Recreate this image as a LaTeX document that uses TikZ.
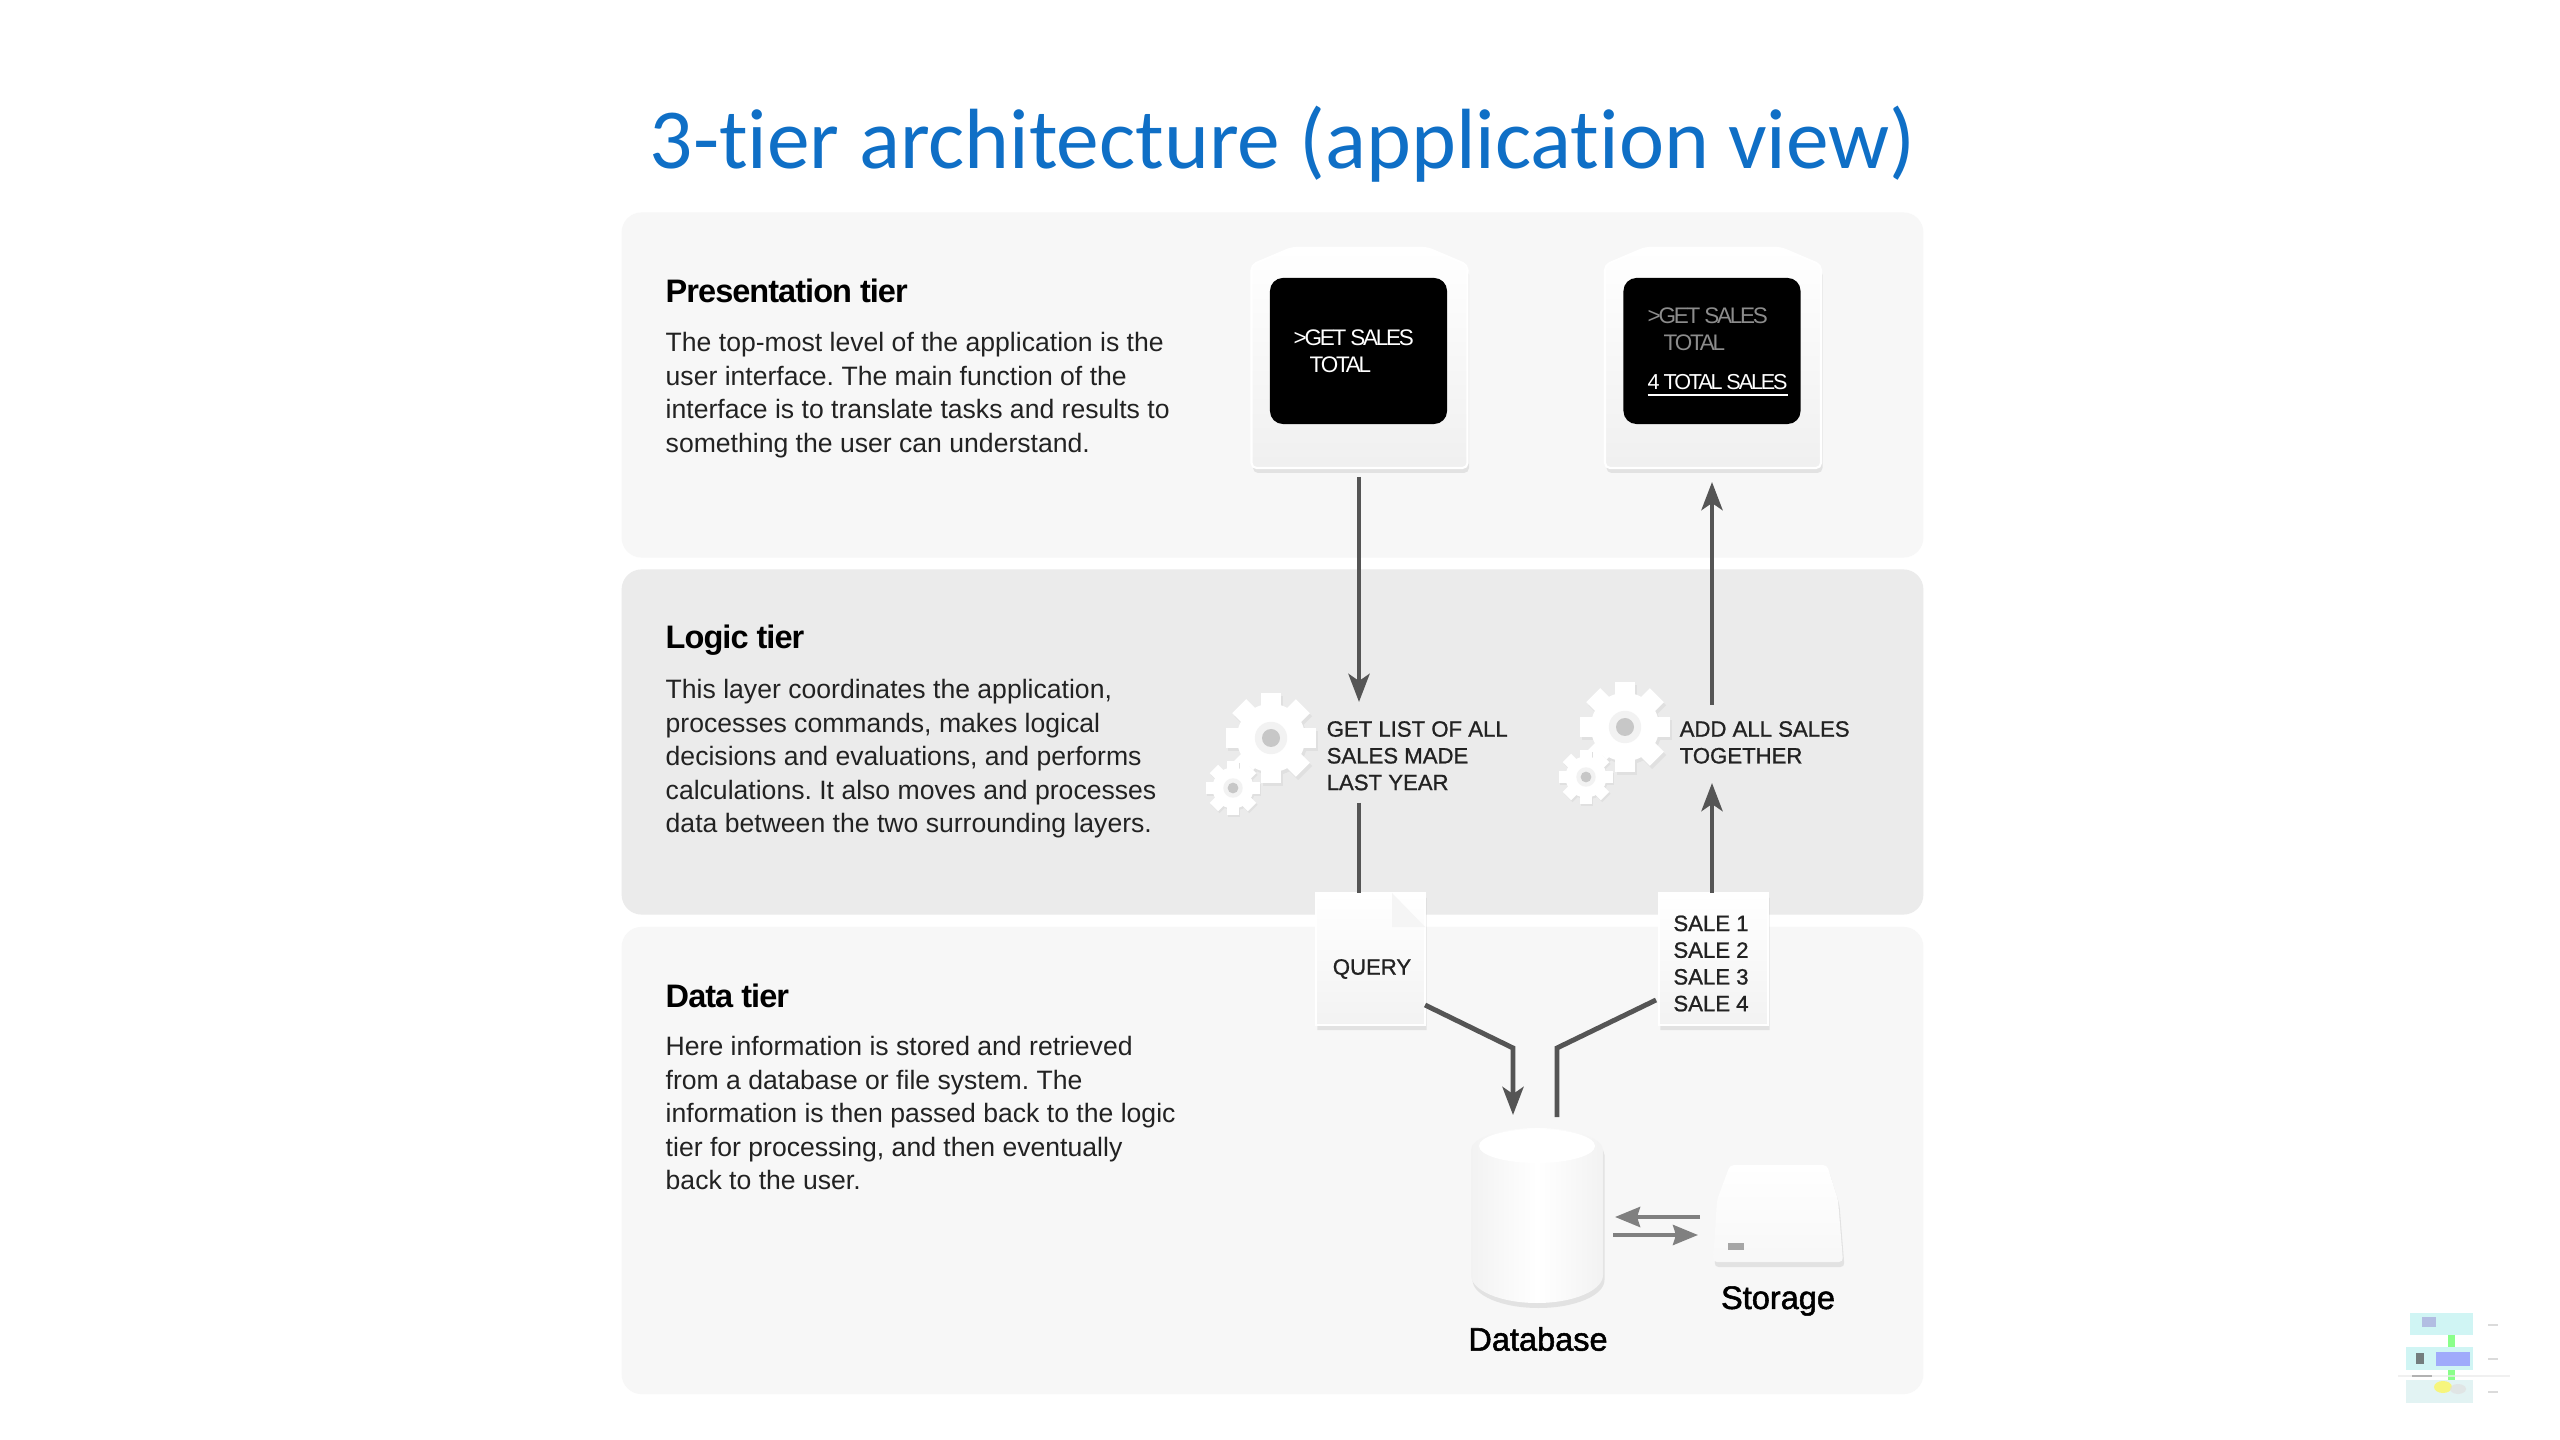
\documentclass[tikz,border=0pt]{standalone}
\usepackage{fontspec}
\setmainfont{Liberation Sans}
\newfontfamily\titlefont[Ligatures=NoCommon]{Carlito}
\newfontfamily\tightfont[LetterSpace=-10]{Liberation Sans}
\newfontfamily\headfont[LetterSpace=-3]{Liberation Sans Bold}
\newfontfamily\stepfont[FakeBold=1]{Liberation Sans}
\newfontfamily\devfont[FakeBold=1.6]{Liberation Sans}
\usetikzlibrary{positioning,arrows.meta,calc,shapes.misc,shadows}
\definecolor{titleblue}{HTML}{0F6FC6}
\definecolor{panelpale}{HTML}{F7F7F7}
\definecolor{paneldark}{HTML}{EBEBEB}
\definecolor{inktext}{HTML}{222222}
\definecolor{wire}{HTML}{555555}
\definecolor{softwire}{HTML}{808080}
\definecolor{thumbcyan}{HTML}{BDF2F0}
\definecolor{thumbpale}{HTML}{D6EFEF}

\begin{document}
\begin{tikzpicture}[x=0.01cm,y=-0.01cm,
          softshadow/.style={drop shadow={shadow xshift=0.015cm,shadow yshift=-0.05cm,fill=black!35,opacity=.25}},
          tierbox/.style={rounded corners=0.2cm,minimum width=13.01cm,inner sep=0},
          tierhead/.style={font=\headfont\fontsize{9.25}{11}\selectfont,text=black,anchor=west,inner sep=0},
          tierbody/.style={font=\frenchspacing\fontsize{7.56}{9.5}\selectfont,text=inktext,align=left,anchor=north west,inner sep=0},
          screenbox/.style={rounded corners=0.13cm,fill=black,minimum width=1.77cm,minimum height=1.46cm,inner sep=0},
          screentext/.style={font=\tightfont\fontsize{6.4}{7.6}\selectfont,align=left,anchor=west,inner sep=0},
          docbox/.style={chamfered rectangle,chamfered rectangle corners=north east,
            chamfered rectangle xsep=0.33cm,chamfered rectangle ysep=0.34cm,inner sep=0,
            minimum width=1.09cm,minimum height=1.32cm,top color=white,bottom color=black!5,draw=white,line width=0.5pt,softshadow},
          steptext/.style={font=\stepfont\fontsize{6.3}{7.6}\selectfont,text=inktext,align=left,anchor=north west,inner sep=0},
          devlabel/.style={font=\devfont\fontsize{9.25}{11}\selectfont,text=black,inner sep=0},
          flow/.style={wire,line width=1.4pt,-{Stealth[length=0.28cm,width=0.21cm,inset=0.07cm]}},
          flowplain/.style={wire,line width=1.4pt},
          swap/.style={softwire,line width=1.15pt,-{Stealth[length=0.25cm,width=0.2cm,inset=0.03cm]}},
          cardshell/.pic={
            \path[top color=white,bottom color=black!6,draw=white,line width=0.6pt,rounded corners=0.05cm,softshadow]
              (-108,110) -- (-108,-93) -- (-68,-110) -- (68,-110) -- (108,-93) -- (108,110) -- cycle;
          },
          gearwheel/.pic={
            \foreach \a in {0,45,...,315}
              \fill[black!12,shift={(0.05*#1,0.07*#1)},rotate=\a] (-0.22*#1,-1*#1) rectangle (0.22*#1,0);
            \fill[black!12,shift={(0.05*#1,0.07*#1)}] (0,0) circle[radius=0.76*#1];
            \foreach \a in {0,45,...,315}
              \fill[white,rotate=\a] (-0.22*#1,-1*#1) rectangle (0.22*#1,0);
            \fill[white] (0,0) circle[radius=0.76*#1];
            \fill[black!5] (0,0) circle[radius=0.36*#1];
            \fill[black!22] (0,0) circle[radius=0.2*#1];
          }]
        \useasboundingbox (0,0) rectangle (2560,1440);
        \fill[white] (0,0) rectangle (2560,1440);
        \node[font=\titlefont\fontsize{24.3}{28}\selectfont,text=titleblue,anchor=west,inner sep=0] (title) at (649,144) {3-tier architecture (application view)};

        \node[tierbox,fill=panelpale,minimum height=3.45cm] (prestier) at (1272.5,385) {};
        \node[tierbox,fill=paneldark,minimum height=3.45cm] (logictier) at (1272.5,742) {};
        \node[tierbox,fill=panelpale,minimum height=4.67cm] (datatier) at (1272.5,1160.5) {};

        \node[tierhead] (preshead) at (665,291) {Presentation tier};
        \node[tierbody] (presbody) at (665,332) {The top-most level of the application is the\\user interface. The main function of the\\interface is to translate tasks and results to\\something the user can understand.};
        \node[tierhead] (logichead) at (665,640) {Logic tier};
        \node[tierbody] (logicbody) at (665,679) {This layer coordinates the application,\\processes commands, makes logical\\decisions and evaluations, and performs\\calculations. It also moves and processes\\data between the two surrounding layers.};
        \node[tierhead] (datahead) at (665,996) {Data tier};
        \node[tierbody] (databody) at (665,1036) {Here information is stored and retrieved\\from a database or file system. The\\information is then passed back to the logic\\tier for processing, and then eventually\\back to the user.};

        \pic at (1359.5,358) {cardshell};
        \pic at (1713,358) {cardshell};
        \node[screenbox] (screenask) at (1358.5,351) {};
        \node[screenbox] (screenshow) at (1712,351) {};
        \node[screentext,text=white] (asktext) at (1293,351) {>GET SALES\\\hspace*{0.16cm}TOTAL};
        \node[screentext,text=black!45] (showtext) at (1647,329) {>GET SALES\\\hspace*{0.16cm}TOTAL};
        \node[screentext,text=white,font=\tightfont\fontsize{6.15}{7.6}\selectfont] (showsum) at (1647,386) {\underline{4 TOTAL SALES}};

        \pic at (1271,738) {gearwheel=45};
        \pic at (1233,788) {gearwheel=27};
        \pic at (1625,727) {gearwheel=45};
        \pic at (1586,777) {gearwheel=27};
        \node[steptext] (stepget) at (1326,720.5) {GET LIST OF ALL\\SALES MADE\\LAST YEAR};
        \node[steptext] (stepadd) at (1679,720.5) {ADD ALL SALES\\TOGETHER};

        \node[docbox] (query) at (1370.5,959) {};
        \fill[black!4] (1392,893) -- (1425,927) -- (1392,927) -- cycle;
        \node[steptext,anchor=center] (querytext) at (1372,969) {QUERY};
        \node[docbox] (sales) at (1713.5,959) {};
        \node[steptext,anchor=center] (saleslist) at (1711,963.5) {SALE 1\\SALE 2\\SALE 3\\SALE 4};

        \coordinate (asktop) at (1359,477);
        \coordinate (askend) at (1359,702);
        \coordinate (showend) at (1712,482);
        \coordinate (showfoot) at (1712,705);
        \coordinate (getfoot) at (1359,803);
        \coordinate (adddoc) at (1712,893);
        \coordinate (addtop) at (1712,783);
        \coordinate (queryout) at (1425,1005);
        \coordinate (querybend) at (1513,1048);
        \coordinate (dbin) at (1513,1115);
        \coordinate (dbout) at (1557,1117);
        \coordinate (salesbend) at (1557,1048);
        \coordinate (salesin) at (1656,1000);
        \coordinate (storeleft) at (1700,1217);
        \coordinate (dbleft) at (1615,1217);
        \coordinate (dbright) at (1613,1235);
        \coordinate (storeright) at (1698,1235);
        \coordinate (getdoc) at (1359,893);

        \draw[flow] (asktop) -- (askend);
        \draw[flow] (showfoot) -- (showend);
        \draw[flowplain] (getfoot) -- (getdoc);
        \draw[flow] (adddoc) -- (addtop);
        \draw[flow] (queryout) -- (querybend) -- (dbin);
        \draw[flowplain] (dbout) -- (salesbend) -- (salesin);
        \draw[swap] (storeleft) -- (dbleft);
        \draw[swap] (dbright) -- (storeright);

        \path[left color=black!5,right color=black!5,middle color=white,softshadow]
          (1471,1150) -- (1471,1275) arc[start angle=180,end angle=0,x radius=66,y radius=28] -- (1603,1150)
          arc[start angle=0,end angle=-180,x radius=66,y radius=22] -- cycle;
        \fill[white] (1537,1146) ellipse[x radius=58,y radius=17];
        \node[devlabel] (dblabel) at (1538,1339) {Database};

        \path[top color=white,bottom color=black!3,rounded corners=0.04cm,softshadow]
          (1730,1165) -- (1827,1165) -- (1838,1200) -- (1843,1262) -- (1713,1262) -- (1717,1200) -- cycle;
        \fill[black!35] (1728,1243) rectangle (1744,1250);
        \node[devlabel] (storelabel) at (1778,1301) {Storage};

        \begin{scope}[opacity=.7]
        \fill[thumbcyan] (2410,1313) rectangle (2473,1335);
        \fill[thumbcyan] (2406,1347) rectangle (2473,1370);
        \fill[thumbpale] (2406,1380) rectangle (2473,1403);
        \fill[black!40!blue!35] (2422,1317) rectangle (2436,1327);
        \fill[black!70] (2416,1353) rectangle (2424,1364);
        \fill[blue!45] (2436,1352) rectangle (2470,1366);
        \fill[yellow!70] (2443,1387) ellipse[x radius=9,y radius=6];
        \fill[black!12] (2458,1389) ellipse[x radius=8,y radius=5];
        \fill[green!65] (2448,1335) rectangle (2455,1347);
        \fill[green!65] (2448,1370) rectangle (2455,1380);
        \draw[black!8,line width=0.4pt] (2398,1376) -- (2510,1376);
        \draw[black!40,line width=0.5pt] (2412,1376) -- (2432,1376);
        \foreach \ty in {1325,1359,1392}
          \draw[black!20,line width=0.7pt] (2488,\ty) -- (2498,\ty);
        \end{scope}
      \end{tikzpicture}
\end{document}
